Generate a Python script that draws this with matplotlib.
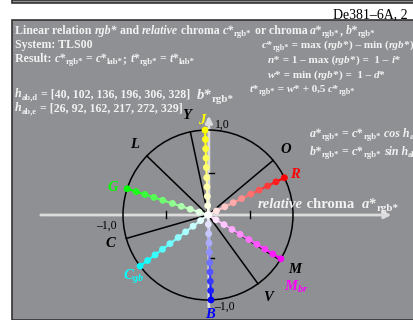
import matplotlib
matplotlib.use('Agg')
import matplotlib.pyplot as plt
from matplotlib.patches import Rectangle, Circle
import numpy as np
import re

# data
hab_d = [40, 102, 136, 196, 306, 328]
names_d = ['O', 'Y', 'L', 'C', 'V', 'M']
hab_e = [26, 92, 162, 217, 272, 329]
names_e = ['R', 'J', 'G', r'$C_{gb}$', 'B', r'$M_{br}$']
full_colors = [(1, 0, 0), (1, 1, 0), (0, 1, 0), (0, 1, 1), (0, 0, 1), (1, 0, 1)]
chroma_steps = [0.0, 0.11, 0.22, 0.33, 0.44, 0.56, 0.67, 0.78, 0.89, 1.0]
# label placement (radius, angle)
label_pos_e = [(1.13, 25), (1.11, 94), (1.16, 164), (1.14, 220), (1.17, 271), (1.34, 321)]
label_r_d = 1.2

W, H = 414, 320
cx, cy, R = 208, 215, 85
gray = (0.56, 0.565, 0.58)
light = '#f2f2f2'

plt.rcParams['font.family'] = ['Liberation Serif', 'DejaVu Serif']
plt.rcParams['mathtext.fontset'] = 'custom'
plt.rcParams['mathtext.rm'] = 'Liberation Serif:bold'
plt.rcParams['mathtext.it'] = 'Liberation Serif:italic:bold'
plt.rcParams['mathtext.bf'] = 'Liberation Serif:bold'

fig = plt.figure(figsize=(W / 100, H / 100), dpi=100, facecolor='white')
ax = fig.add_axes([0, 0, 1, 1])
ax.set_xlim(-cx / R, (W - cx) / R)
ax.set_ylim(-(H - cy) / R, cy / R)
ax.axis('off')
renderer = fig.canvas.get_renderer()


def px(x, y):
    return x / W, 1 - y / H


def width(s, **kw):
    t = fig.text(0, 0, s + '|', **kw)
    w1 = t.get_window_extent(renderer).width
    t.set_text('|')
    w2 = t.get_window_extent(renderer).width
    t.remove()
    return w1 - w2


def rich(x, y, markup, fs=8.6, color=light, weight='bold', sub=0.72):
    # {i:...} italic, {s:...} subscript, rest upright
    parts = re.split(r'(\{[is]:[^}]*\})', markup)
    for p in parts:
        if not p:
            continue
        size, style, dy = fs, 'normal', 0
        if p.startswith('{i:'):
            p, style = p[3:-1], 'italic'
        elif p.startswith('{s:'):
            p, size, dy = p[3:-1], fs * sub, fs * 0.28
        kw = dict(fontsize=size, fontstyle=style, fontweight=weight, color=color, va='baseline')
        fig.text(*px(x, y + dy), p, **kw)
        x += width(p, **kw)


# panels
ax.add_patch(Rectangle(px(12, 320), (W - 12) / W, 300 / H, transform=fig.transFigure,
                       facecolor=gray, edgecolor='#333333', lw=1.2, zorder=0))
ax.add_patch(Rectangle(px(12, 3), (W - 12) / W, 3 / H, transform=fig.transFigure,
                       facecolor=gray, edgecolor='#333333', lw=1.2, zorder=0))

# axes arrows
ax.annotate('', xy=(2.19, 0), xytext=(-2.0, 0),
            arrowprops=dict(arrowstyle='-|>', color='#dcdcdc', lw=2, mutation_scale=10), zorder=2)
ax.annotate('', xy=(0.01, 1.2), xytext=(0.01, -1.12),
            arrowprops=dict(arrowstyle='-|>', color='#dcdcdc', lw=2, mutation_scale=10), zorder=2)
for t in [-0.5, 0.5]:
    ax.plot([t, t], [-0.03, 0.05], color='black', lw=1, zorder=3)
    ax.plot([0.01, 0.07], [t, t], color='black', lw=1, zorder=3)

ax.add_patch(Circle((0, 0), 1.0, fill=False, edgecolor='black', lw=1.1, zorder=3))

# hue lines
for h, name in zip(hab_d, names_d):
    a = np.cos(np.radians(h))
    b = np.sin(np.radians(h))
    ax.plot([0, a], [0, b], color='black', lw=1.1, zorder=3)
    ax.text(label_r_d * a, label_r_d * b, name, color='black', fontsize=10.5,
            fontweight='bold', fontstyle='italic', ha='center', va='center', zorder=6)

# colour series
for h, col, name, (lr, la) in zip(hab_e, full_colors, names_e, label_pos_e):
    c = np.array(chroma_steps)
    a = c * np.cos(np.radians(h))
    b = c * np.sin(np.radians(h))
    tints = [tuple(1 - ci + ci * f for f in col) for ci in c]
    for i in range(1, len(c)):
        ax.plot(a[i - 1:i + 1], b[i - 1:i + 1], color=tints[i], lw=1.5, zorder=4)
    ax.scatter(a, b, s=24, c=tints, zorder=5, linewidths=0)
    ax.text(lr * np.cos(np.radians(la)), lr * np.sin(np.radians(la)), name, color=col,
            fontsize=10.5, fontweight='bold', fontstyle='italic', ha='center', va='center', zorder=6)

# axis numbers
fig.text(*px(215, 128), '1,0', fontsize=8.5, color='black')
fig.text(*px(96, 229), '\u20131,0', fontsize=8.5, color='black')
fig.text(*px(214, 310), '\u20131,0', fontsize=8.5, color='black')

fig.text(*px(408, 18), 'De381\u20136A, 2', fontsize=10, color='black', ha='right')

# text blocks
rich(15, 34, 'Linear relation {i:rgb*} and {i:relative} chroma {i:c*}{s:rgb*} or chroma '
             '{i:a*}{s:rgb*}, {i:b*}{s:rgb*}')
rich(15, 48, 'System: TLS00')
rich(15, 62, 'Result: {i:c*}{s:rgb*} = {i:c*}{s:lab*}; {i:t*}{s:rgb*} = {i:t*}{s:lab*}')
rich(15, 97, '{i:h}{s:ab,d} = [' + ', '.join(str(v) for v in hab_d) + ']')
rich(15, 111, '{i:h}{s:ab,e} = [' + ', '.join(str(v) for v in hab_e) + ']')

rf = 8.0
rich(262, 48, '{i:c*}{s:rgb*} = max ({i:rgb*}) \u2013 min ({i:rgb*})', fs=rf)
rich(268, 63, '{i:n*} = 1 \u2013 max ({i:rgb*}) =  1 \u2013 {i:i*}', fs=rf)
rich(268, 78, '{i:w*} = min ({i:rgb*}) =  1 \u2013 {i:d*}', fs=rf)
rich(250, 92, '{i:t*}{s:rgb*} = {i:w*} + 0,5 {i:c*}{s:rgb*}', fs=rf)
rich(197, 99, '{i:b*}{s:rgb*}', fs=10.5, sub=0.75)
rich(310, 137, '{i:a*}{s:rgb*} = {i:c*}{s:rgb*} {i:cos h}{s:ab}', fs=8.6)
rich(310, 155, '{i:b*}{s:rgb*} = {i:c*}{s:rgb*} {i:sin h}{s:ab}', fs=8.6)
rich(258, 208, '{i:relative} chroma  {i:a*}{s:rgb*}', fs=10.5, sub=0.75)

fig.savefig('out.png', dpi=100, facecolor='white')
